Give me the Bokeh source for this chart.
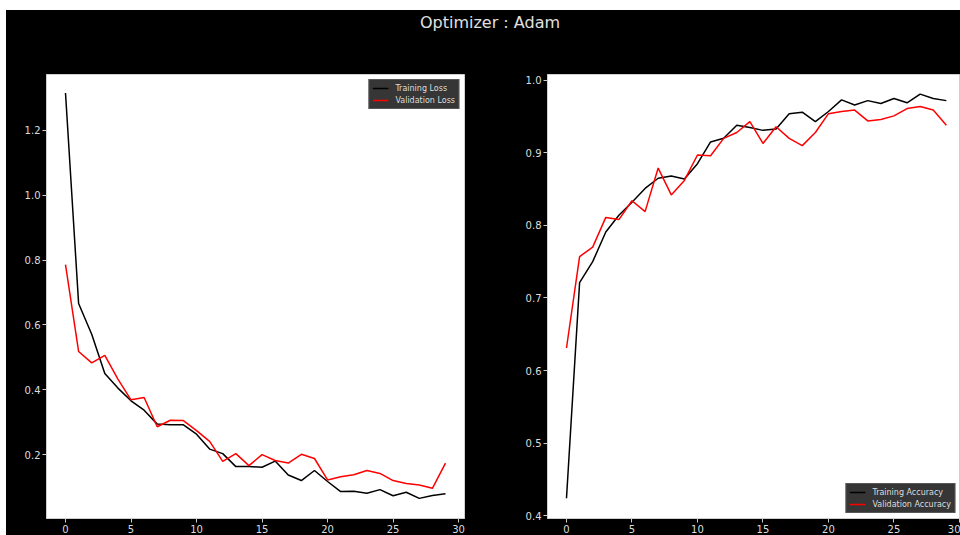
from bokeh.plotting import figure
from bokeh.layouts import column, row
from bokeh.models import Div, FixedTicker, PrintfTickFormatter, Range1d, Spacer
from bokeh.embed import file_html
from bokeh.resources import INLINE

epochs = list(range(30))
train_loss = [1.315, 0.666, 0.571, 0.450, 0.405, 0.366, 0.337, 0.294, 0.292, 0.292,
              0.263, 0.217, 0.203, 0.163, 0.163, 0.161, 0.180, 0.137, 0.120, 0.151,
              0.117, 0.086, 0.087, 0.081, 0.092, 0.073, 0.084, 0.065, 0.074, 0.079]
val_loss = [0.786, 0.518, 0.483, 0.506, 0.433, 0.369, 0.376, 0.286, 0.306, 0.305,
            0.274, 0.241, 0.179, 0.203, 0.166, 0.200, 0.182, 0.174, 0.201, 0.188,
            0.122, 0.132, 0.138, 0.151, 0.142, 0.120, 0.111, 0.106, 0.096, 0.174]
train_acc = [0.424, 0.721, 0.750, 0.791, 0.814, 0.832, 0.851, 0.865, 0.868, 0.864,
             0.885, 0.915, 0.920, 0.938, 0.935, 0.931, 0.933, 0.954, 0.956, 0.943,
             0.957, 0.973, 0.966, 0.972, 0.968, 0.975, 0.969, 0.981, 0.975, 0.972]
val_acc = [0.631, 0.757, 0.770, 0.811, 0.808, 0.834, 0.819, 0.879, 0.842, 0.862,
           0.897, 0.896, 0.920, 0.928, 0.943, 0.913, 0.936, 0.920, 0.910, 0.928,
           0.954, 0.957, 0.959, 0.944, 0.946, 0.951, 0.961, 0.964, 0.959, 0.938]
x_ticks = [0, 5, 10, 15, 20, 25, 30]
loss_ticks = [0.2, 0.4, 0.6, 0.8, 1.0, 1.2]
acc_ticks = [0.4, 0.5, 0.6, 0.7, 0.8, 0.9, 1.0]
title_text = "Optimizer : Adam"

TXT = "#dddddd"
EDGE = "#cfcfcf"
FONT = "DejaVu Sans"
FIG_H = 462
BLACK = {"background-color": "black"}


def make_fig(width, mb_left, mb_right, xr, yr, yticks):
    p = figure(width=width, height=FIG_H, output_backend="svg", toolbar_location=None,
               x_range=Range1d(*xr), y_range=Range1d(*yr))
    p.min_border = 0
    p.min_border_left = mb_left
    p.min_border_right = mb_right
    p.min_border_top = 1
    p.min_border_bottom = 0
    p.background_fill_color = "white"
    p.border_fill_color = "black"
    p.outline_line_color = EDGE
    p.outline_line_width = 1
    p.grid.visible = False
    for ax in (p.xaxis[0], p.yaxis[0]):
        ax.axis_line_color = EDGE
        ax.major_tick_line_color = EDGE
        ax.major_tick_in = 0
        ax.major_tick_out = 4
        ax.minor_tick_line_color = None
        ax.major_label_text_color = TXT
        ax.major_label_text_font = FONT
        ax.major_label_text_font_size = "10px"
        ax.major_label_standoff = 2
    p.xaxis.ticker = FixedTicker(ticks=x_ticks)
    p.xaxis.formatter = PrintfTickFormatter(format="%d")
    p.yaxis.ticker = FixedTicker(ticks=yticks)
    p.yaxis.formatter = PrintfTickFormatter(format="%.1f")
    return p


def style_legend(p, loc):
    lg = p.legend[0]
    lg.location = loc
    lg.margin = 5
    lg.padding = 3
    lg.spacing = 2
    lg.glyph_width = 16
    lg.glyph_height = 10
    lg.label_height = 10
    lg.label_standoff = 7
    lg.label_text_font = FONT
    lg.label_text_font_size = "8px"
    lg.label_text_color = TXT
    lg.background_fill_color = "#363636"
    lg.background_fill_alpha = 1
    lg.border_line_color = "#777777"
    lg.border_line_width = 1


p1 = make_fig(502, 40, 44, (-1.45, 30.45), (0.003, 1.372), loss_ticks)
p1.line(epochs, train_loss, line_color="black", line_width=1.5, legend_label="Training Loss")
p1.line(epochs, val_loss, line_color="red", line_width=1.5, legend_label="Validation Loss")
style_legend(p1, "top_right")

p2 = make_fig(452, 39, 0, (-1.45, 30.08), (0.396, 1.008), acc_ticks)
p2.line(epochs, train_acc, line_color="black", line_width=1.5, legend_label="Training Accuracy")
p2.line(epochs, val_acc, line_color="red", line_width=1.5, legend_label="Validation Accuracy")
style_legend(p2, "bottom_right")

title = Div(
    text=('<div style="width:954px;box-sizing:border-box;text-align:center;'
          'padding-left:14px;padding-top:3px;color:#e0e0e0;font-family:\'DejaVu Sans\';'
          'font-size:16px;line-height:19px;">' + title_text + '</div>'),
    width=954, height=63,
    styles={"background-color": "black", "margin": "0", "padding": "0"},
)

inner = column(title, row(p1, p2, spacing=0, styles=BLACK), spacing=0, styles=BLACK)
layout = column(Spacer(width=960, height=10),
                row(Spacer(width=6, height=525), inner, spacing=0),
                spacing=0)

open("out.html", "w").write(file_html(layout, INLINE))
